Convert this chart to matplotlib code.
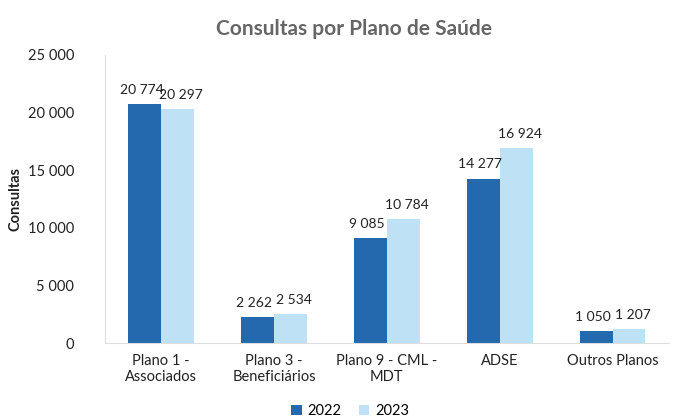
import matplotlib.pyplot as plt
import numpy as np
from matplotlib.ticker import FuncFormatter

plt.rcParams['font.family'] = ['Lato', 'DejaVu Sans']

# data
categories = ["Plano 1 -\nAssociados", "Plano 3 -\nBeneficiários", "Plano 9 - CML -\nMDT", "ADSE", "Outros Planos"]
values_2022 = [20774, 2262, 9085, 14277, 1050]
values_2023 = [20297, 2534, 10784, 16924, 1207]
years = ["2022", "2023"]

def fmt(v, pos=None):
    return f"{int(v):,}".replace(",", " ")

fig = plt.figure(figsize=(6.8, 4.19), dpi=100)
ax = fig.add_axes([0.154, 0.181, 0.83, 0.688])

x = np.arange(len(categories))
w = 0.29
b1 = ax.bar(x - w / 2, values_2022, w, color="#2469AE", label=years[0])
b2 = ax.bar(x + w / 2, values_2023, w, color="#BFE1F6", label=years[1])

# value labels, nudged apart a little like the original
for bars, dx in ((b1, -0.03), (b2, 0.03)):
    for r in bars:
        ax.text(r.get_x() + r.get_width() / 2 + dx, r.get_height() + 700, fmt(r.get_height()),
                ha="center", va="bottom", fontsize=10, color="#222222")

ax.set_xlim(-0.5, len(categories) - 0.5)
ax.set_ylim(0, 25000)
ax.set_yticks(range(0, 25001, 5000))
ax.yaxis.set_major_formatter(FuncFormatter(fmt))
ax.set_xticks(x)
ax.set_xticklabels(categories, fontsize=10.5)
ax.tick_params(axis="both", length=0, labelsize=10.5, colors="#222222")
ax.tick_params(axis="y", pad=22)
ax.tick_params(axis="x", pad=8)
ax.set_ylabel("Consultas", fontsize=10.5, fontweight="bold", color="#222222")

for s in ["top", "right"]:
    ax.spines[s].set_visible(False)
ax.spines["left"].set_color("#DDDDDD")
ax.spines["bottom"].set_color("#DDDDDD")

fig.suptitle("Consultas por Plano de Saúde", x=0.52, y=0.955, fontsize=15,
             fontweight="bold", color="#666666")

fig.legend(loc="lower center", bbox_to_anchor=(0.515, -0.03), ncol=2, frameon=False,
           fontsize=10.5, handlelength=0.7, handletextpad=0.4, columnspacing=1.2)

fig.savefig("out.png", dpi=100)
